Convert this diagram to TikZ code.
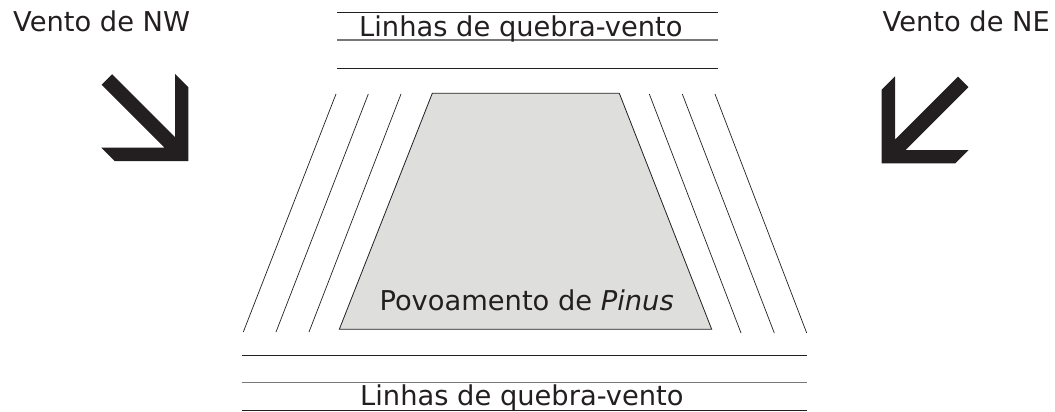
\documentclass[tikz,border=0pt]{standalone}
\usepackage{fontspec}
\setmainfont{DejaVu Sans}
\usetikzlibrary{calc}
\definecolor{tinta}{RGB}{35,31,32}
\definecolor{povo}{RGB}{222,222,220}
\definecolor{cinza}{RGB}{120,120,118}
\tikzset{rotulo/.style={inner sep=0pt,anchor=base west,text=tinta,
    font=\fontsize{27.3}{32}\selectfont},
    faixa/.style={line width=0.8pt,draw=tinta},
    meio/.style={line width=1.1pt,draw=cinza},
    seta/.pic={\fill[tinta] (-76.25,-86.75) -- (-13.3,-23.8) -- (-13.3,-87)
        -- (0,-73.7) -- (0,0) -- (-73.7,0) -- (-87,-13.3) -- (-23.8,-13.3)
        -- (-86.75,-76.25) -- cycle;}}

\begin{document}
\begin{tikzpicture}[x=1pt,y=-1pt]
        \useasboundingbox (0,0) rectangle (1055,412);

        % ventos
        \node[rotulo] (nw) at (13,32) {Vento de NW};
        \node[rotulo] (ne) at (882.5,32) {Vento de NE};
        \pic at (188.3,161) {seta};
        \pic[xscale=-1] at (881.7,163.3) {seta};

        % linhas de quebra-vento (cima e baixo)
        \draw[faixa] (337,12.3) -- (718,12.3);
        \draw[meio]  (337,40) -- (718,40);
        \draw[faixa] (337,68) -- (718,68);
        \node[rotulo] (topo) at (359,36.5) {Linhas de quebra-vento};

        \draw[faixa] (241.7,355) -- (806.7,355);
        \draw[meio]  (241.7,382.7) -- (806.7,382.7);
        \draw[faixa] (241.7,410.7) -- (806.7,410.7);
        \node[rotulo] (base) at (360,405) {Linhas de quebra-vento};

        % linhas laterais
        \foreach \a/\b in {336/243.3, 368.3/276, 401/309}
            \draw[line width=0.7pt,tinta] (\a,94) -- (\b,332);
        \foreach \a/\b in {649.3/741, 682.3/774.3, 715/806.7}
            \draw[line width=0.7pt,tinta] (\a,94) -- (\b,333);

        % povoamento
        \filldraw[fill=povo,draw=tinta,line width=0.8pt]
            (432.3,93.3) -- (619.3,93.3) -- (711.7,329.3) -- (339.3,329.3) -- cycle;
        \node[rotulo] (pinus) at (379.3,310) {Povoamento de \textit{Pinus}};
\end{tikzpicture}
\end{document}
